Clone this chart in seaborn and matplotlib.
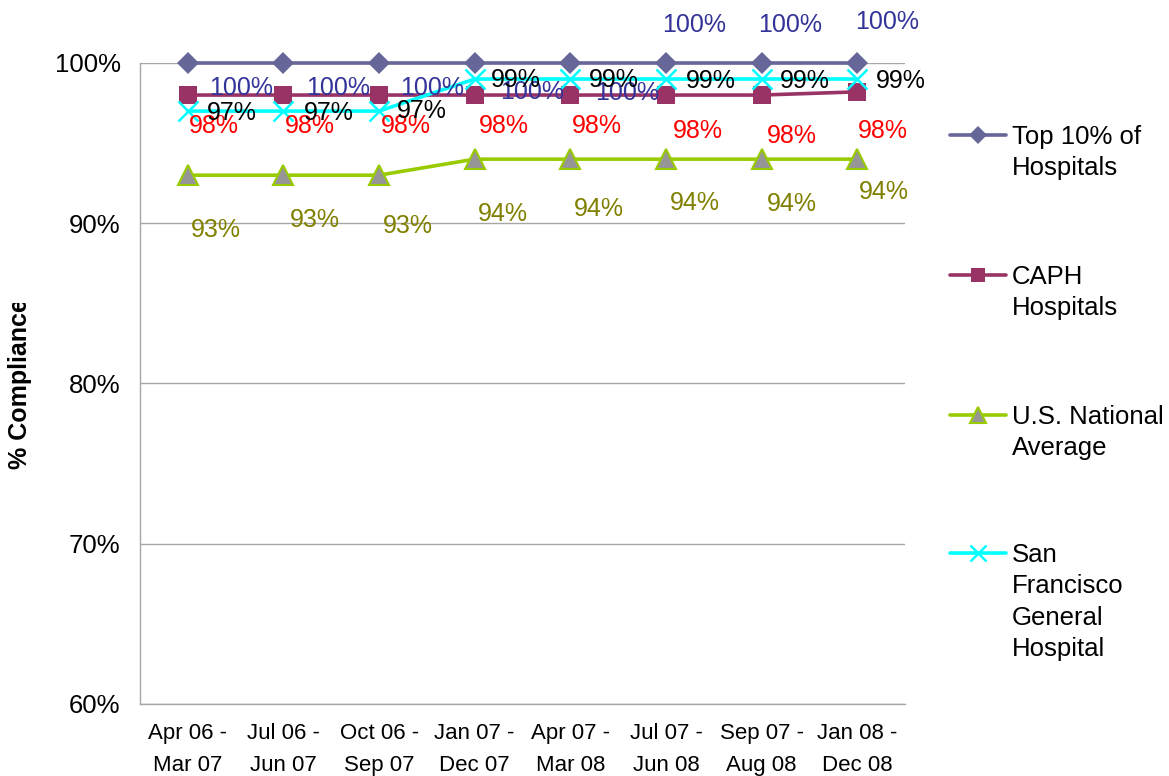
import numpy as np
import pandas as pd
import matplotlib
matplotlib.use("Agg")
import matplotlib.pyplot as plt
import seaborn as sns
from matplotlib.transforms import Bbox, TransformedBbox

# ---------------- data ----------------
periods = ["Apr 06 -\nMar 07", "Jul 06 -\nJun 07", "Oct 06 -\nSep 07", "Jan 07 -\nDec 07",
           "Apr 07 -\nMar 08", "Jul 07 -\nJun 08", "Sep 07 -\nAug 08", "Jan 08 -\nDec 08"]
series_names = ["Top 10% of\nHospitals", "CAPH\nHospitals",
                "U.S. National\nAverage", "San\nFrancisco\nGeneral\nHospital"]
top10 = [100, 100, 100, 100, 100, 100, 100, 100]
caph = [98, 98, 98, 98, 98, 98, 98, 98.2]
us_nat = [93, 93, 93, 94, 94, 94, 94, 94]
sfgh = [97, 97, 97, 99, 99, 99, 99, 99]
yticks = [60, 70, 80, 90, 100]

# ---------------- styles / layout ----------------
W, H, DPI = 1169, 776, 100
line_colors = ["#666699", "#993366", "#99CC00", "#00FFFF"]
label_colors = ["#333399", "#FF0000", "#808000", "#000000"]
markers = ["D", "s", "^", "x"]
msizes = [11, 12.5, 15, 14]
mfaces = ["#666699", "#993366", "#969696", "#00FFFF"]
medges = ["#666699", "#993366", "#99CC00", "#00FFFF"]
mews = [0, 0, 1.5, 1.8]
# data label offsets (pixels, dx right, dy down)
offsets = [
    [(53, 23), (55, 23), (53, 23), (57, 27), (57, 28), (28, -40), (29, -40), (30, -43)],
    [(26, 28), (26, 28), (27, 28), (29, 28), (27, 28), (32, 33), (30, 38), (26, 37)],
    [(28, 52), (31, 42), (29, 48), (28, 52), (29, 47), (29, 41), (30, 42), (27, 30)],
    [(44, -1), (45, -1), (43, -3), (41, -2), (44, -2), (45, -1), (43, -1), (44, -1)],
]

sns.set_style("white")
plt.rcParams["font.family"] = ["Liberation Sans", "DejaVu Sans"]
plt.rcParams["text.color"] = "black"
plt.rcParams["xtick.labelcolor"] = "black"
plt.rcParams["ytick.labelcolor"] = "black"

fig = plt.figure(figsize=(W / DPI, H / DPI), dpi=DPI)
fig.patch.set_facecolor("white")
ax = fig.add_axes([140 / W, 1 - 704 / H, (905 - 140) / W, (704 - 63) / H])

x_idx = np.arange(len(periods))
all_series = [top10, caph, us_nat, sfgh]
for i, vals in enumerate(all_series):
    df = pd.DataFrame({"x": x_idx, "y": vals})
    sns.lineplot(data=df, x="x", y="y", ax=ax, color=line_colors[i], lw=2.6,
                 marker=markers[i], markersize=msizes[i], markerfacecolor=mfaces[i],
                 markeredgecolor=medges[i], markeredgewidth=mews[i], legend=False,
                 zorder=3 + i, clip_on=False)

for i, vals in enumerate(all_series):
    for j, v in enumerate(vals):
        dx, dy = offsets[i][j]
        ax.annotate(f"{v:.0f}%", xy=(x_idx[j], v), xytext=(dx, -dy - 2.5),
                    textcoords="offset pixels", ha="center", va="center",
                    fontsize=18, color=label_colors[i], zorder=10, annotation_clip=False)

ax.set_xlim(-0.5, len(periods) - 0.5)
ax.set_ylim(60, 100)
ax.set_yticks(yticks)
ax.set_yticklabels([f"{t}%" for t in yticks], fontsize=18.5, color="black")
ax.set_xticks(x_idx)
ax.set_xticklabels(periods, fontsize=16, linespacing=1.68, color="black")
ax.set_xticks(np.arange(-0.5, len(periods), 1.0), minor=True)
ax.tick_params(axis="x", which="major", length=0, pad=14)
ax.tick_params(axis="x", which="minor", length=5, width=1, color="#A6A6A6", direction="out")
ax.tick_params(axis="y", length=5, width=1, color="#A6A6A6", direction="out", pad=9)
ax.set_xlabel("")
ax.set_ylabel("")
ax.yaxis.grid(True, color="#A6A6A6", lw=1)
ax.xaxis.grid(False)
for s in ["top", "right"]:
    ax.spines[s].set_visible(False)
for s in ["left", "bottom"]:
    ax.spines[s].set_color("#A6A6A6")
    ax.spines[s].set_linewidth(1)

# y axis title (clipped like the reference)
yl = fig.text(20 / W, 1 - 384 / H, "% Compliance", rotation=90, ha="center", va="center",
              fontsize=18, fontweight="bold", color="black")
yl.set_clip_box(TransformedBbox(Bbox([[0, 0], [60 / W, 1 - 303 / H]]), fig.transFigure))
yl.set_clip_on(True)

# legend (manual, Excel style: handle aligned to first text line)
lax = fig.add_axes([0, 0, 1, 1])
lax.set_xlim(0, W)
lax.set_ylim(H, 0)
lax.axis("off")
leg_y = [135, 275, 415, 553]
line_step = 31.3
for i, name in enumerate(series_names):
    y0 = leg_y[i]
    lax.plot([950, 1006], [y0, y0], color=line_colors[i], lw=2.6)
    lax.plot([978], [y0], marker=markers[i], markersize=msizes[i] * 0.8,
             markerfacecolor=mfaces[i], markeredgecolor=medges[i],
             markeredgewidth=mews[i], lw=0)
    for k, part in enumerate(name.split("\n")):
        lax.text(1012, y0 + k * line_step + 2, part, ha="left", va="center",
                 fontsize=18.5, color="black")

fig.savefig("out.png", dpi=DPI, facecolor="white")
